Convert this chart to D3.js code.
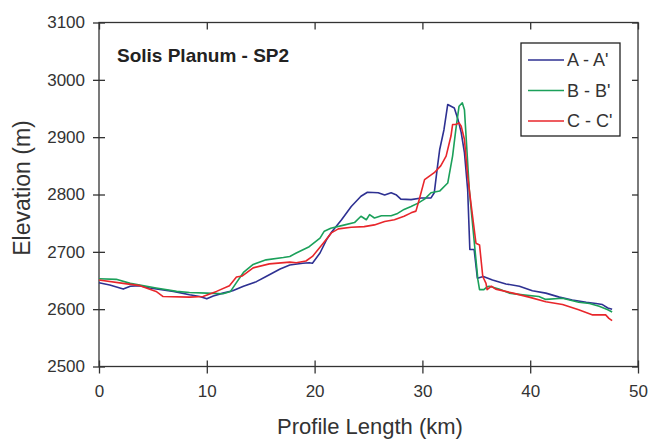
<!DOCTYPE html>
<html>
<head>
<meta charset="utf-8">
<script src="https://cdn.jsdelivr.net/npm/d3@7"></script>
<style>
  body { margin: 0; background: #fff; }
  text { font-family: "Liberation Sans", Arial, sans-serif; }
</style>
</head>
<body>
<svg id="chart" width="649" height="440"></svg>
<script>
// profile data, [km, elevation m]
const profileA = [[0,2646],[1.0,2642],[2.25,2635],[2.9,2640],[3.8,2641],[4.7,2637],[6.9,2631],[8.4,2625],[9.35,2622],[10.0,2618],[10.6,2623],[11.5,2628],[12.4,2632],[13.4,2640],[14.6,2648],[15.5,2657],[16.8,2670],[17.7,2677],[18.9,2680],[19.5,2681],[19.8,2680],[20.5,2698],[21.1,2721],[21.6,2735],[22.5,2756],[23.4,2779],[24.3,2797],[24.9,2804],[25.9,2803],[26.5,2799],[27.1,2803],[27.6,2799],[28.0,2792],[28.95,2791],[29.9,2794],[30.8,2794],[31.1,2803],[31.4,2849],[31.6,2878],[32.0,2913],[32.35,2957],[32.65,2954],[32.96,2951],[33.3,2931],[33.6,2908],[33.9,2873],[34.2,2808],[34.4,2704],[34.8,2704],[35.1,2654],[35.65,2657],[36.5,2651],[37.75,2644],[39.0,2640],[40.2,2632],[41.45,2628],[42.7,2621],[43.9,2616],[45.2,2612],[46.1,2610],[46.7,2608],[47.2,2602],[47.6,2600]]
const profileB = [[0,2653],[1.6,2652],[2.9,2645],[5.3,2637],[7.2,2631],[8.4,2629],[10.0,2628],[11.5,2627],[12.2,2631],[12.7,2645],[13.4,2664],[14.3,2678],[15.5,2686],[17.1,2690],[17.7,2692],[18.3,2698],[19.5,2709],[20.5,2724],[20.9,2736],[21.5,2741],[22.8,2747],[23.7,2751],[24.3,2762],[24.8,2756],[25.1,2765],[25.55,2759],[26.2,2763],[27.1,2763],[27.7,2767],[28.3,2774],[28.95,2779],[29.6,2785],[30.2,2792],[30.8,2803],[31.6,2806],[32.35,2820],[32.8,2867],[33.1,2913],[33.4,2954],[33.7,2960],[33.9,2948],[34.05,2902],[34.35,2808],[34.7,2739],[35.0,2680],[35.15,2651],[35.3,2634],[35.7,2634],[36.0,2639],[36.2,2640],[37.1,2635],[38.05,2628],[39.3,2625],[40.8,2622],[41.45,2617],[43.0,2619],[44.5,2612],[45.5,2610],[46.4,2605],[47.2,2599],[47.6,2595]]
const profileC = [[0,2651],[2.25,2645],[3.8,2641],[5.3,2631],[5.95,2622],[8.4,2621],[9.65,2622],[10.9,2631],[12.1,2641],[12.75,2656],[13.3,2658],[14.3,2672],[15.8,2679],[17.7,2682],[18.3,2681],[19.2,2684],[19.8,2692],[20.8,2715],[21.55,2733],[22.2,2740],[23.4,2743],[24.6,2744],[25.55,2747],[26.5,2753],[27.4,2756],[28.3,2762],[28.95,2768],[29.4,2771],[29.7,2791],[30.2,2826],[31.1,2838],[31.7,2850],[32.2,2867],[32.65,2902],[32.8,2922],[33.1,2922],[33.4,2925],[33.6,2919],[33.9,2896],[34.2,2832],[34.5,2785],[34.97,2715],[35.3,2712],[35.6,2657],[35.9,2645],[36.0,2634],[36.4,2640],[36.8,2635],[38.4,2628],[39.9,2621],[41.45,2613],[43.0,2608],[44.5,2599],[45.8,2590],[47.0,2590],[47.3,2584],[47.6,2580]]

const seriesNames = ["A - A'", "B - B'", "C - C'"]
const seriesColors = ["#2e3192", "#1ba05a", "#e8262b"]
const xTicks = [0, 10, 20, 30, 40, 50]
const yTicks = [2500, 2600, 2700, 2800, 2900, 3000, 3100]

svg = d3.select("#chart")

left = 99; right = 638; top_ = 22.5; bottom = 366.5

xScale = d3.scaleLinear().domain([0, 50]).range([left, right])
yScale = d3.scaleLinear().domain([2500, 3100]).range([bottom, top_])

axisColor = "#333"

// frame
svg.append("rect")
    .attr("x", left).attr("y", top_)
    .attr("width", right-left).attr("height", bottom-top_)
    .attr("fill", "none").attr("stroke", axisColor).attr("stroke-width", 1.3)

// left axis, ticks crossing
yl = svg.append("g").attr("transform", `translate(${left},0)`)
    .call(d3.axisLeft(yScale).tickValues(yTicks).tickSize(6).tickPadding(8).tickFormat(d3.format("d")))
yl.select(".domain").remove()
yl.selectAll(".tick line").attr("x1", 6).attr("stroke", axisColor).attr("stroke-width", 1.3)
yl.selectAll(".tick text").attr("font-size", 17).attr("fill", "#333")
    .attr("font-family", "Liberation Sans, Arial, sans-serif")

// bottom axis, ticks crossing
xb = svg.append("g").attr("transform", `translate(0,${bottom})`)
    .call(d3.axisBottom(xScale).tickValues(xTicks).tickSize(7).tickPadding(11))
xb.select(".domain").remove()
xb.selectAll(".tick line").attr("y1", -6).attr("stroke", axisColor).attr("stroke-width", 1.3)
xb.selectAll(".tick text").attr("font-size", 17).attr("fill", "#333")
    .attr("font-family", "Liberation Sans, Arial, sans-serif")

// top + right, inward ticks
xt = svg.append("g").attr("transform", `translate(0,${top_})`)
    .call(d3.axisBottom(xScale).tickValues(xTicks).tickSize(7).tickFormat(""))
xt.select(".domain").remove()
xt.selectAll(".tick line").attr("stroke", axisColor).attr("stroke-width", 1.3)

yr = svg.append("g").attr("transform", `translate(${right},0)`)
    .call(d3.axisLeft(yScale).tickValues(yTicks).tickSize(6).tickFormat(""))
yr.select(".domain").remove()
yr.selectAll(".tick line").attr("stroke", axisColor).attr("stroke-width", 1.3)

// profiles
line = d3.line().x(d => xScale(d[0])).y(d => yScale(d[1]))
;[profileA, profileB, profileC].forEach((p, i) => {
    svg.append("path")
        .attr("d", line(p))
        .attr("fill", "none")
        .attr("stroke", seriesColors[i])
        .attr("stroke-width", 1.6)
        .attr("stroke-linejoin", "round")
})

// labels
svg.append("text")
    .attr("x", 117).attr("y", 62)
    .attr("font-size", 19).attr("font-weight", "bold").attr("fill", "#222")
    .text("Solis Planum - SP2")

svg.append("text")
    .attr("transform", "translate(30,188) rotate(-90)")
    .attr("text-anchor", "middle")
    .attr("font-size", 23).attr("fill", "#333")
    .text("Elevation (m)")

svg.append("text")
    .attr("x", 370).attr("y", 434)
    .attr("text-anchor", "middle")
    .attr("font-size", 22).attr("fill", "#333")
    .text("Profile Length (km)")

// legend
legend = svg.append("g")
legend.append("rect")
    .attr("x", 521).attr("y", 43).attr("width", 99).attr("height", 93)
    .attr("fill", "#fff").attr("stroke", "#222").attr("stroke-width", 1.3)
seriesNames.forEach((name, i) => {
    ly = 60 + i*30.5
    legend.append("line")
        .attr("x1", 528).attr("x2", 564).attr("y1", ly).attr("y2", ly)
        .attr("stroke", seriesColors[i]).attr("stroke-width", 1.6)
    legend.append("text")
        .attr("x", 567).attr("y", ly).attr("dy", "0.35em")
        .attr("font-size", 18).attr("fill", "#333")
        .text(name)
})
</script>
</body>
</html>
